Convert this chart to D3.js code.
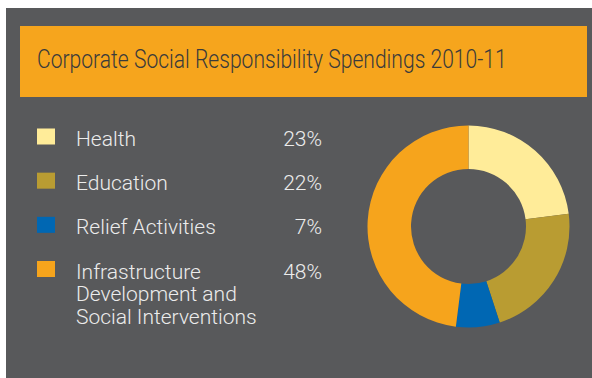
<!DOCTYPE html>
<html>
<head>
<meta charset="utf-8">
<script src="https://cdn.jsdelivr.net/npm/d3@7"></script>
<style>
  html, body { margin: 0; padding: 0; background: #ffffff; }
  svg { display: block; }
  text { font-family: Roboto, "Liberation Sans Narrow", "Open Sans", sans-serif; }
</style>
</head>
<body>
<svg id="chart" width="592" height="378"></svg>
<script>
// Spending shares by programme area
const titleText = "Corporate Social Responsibility Spendings 2010-11";
const categories = ["Health", "Education", "Relief Activities", "Infrastructure Development and Social Interventions"];
const labelLines = [["Health"], ["Education"], ["Relief Activities"], ["Infrastructure", "Development and", "Social Interventions"]];
const shares = [23, 22, 7, 48];
const colours = ["#ffec99", "#b99c32", "#0067b3", "#f6a41c"];

const svg = d3.select("#chart");

// dark panel
svg.append("rect")
  .attr("x", 6).attr("y", 8)
  .attr("width", 586).attr("height", 370)
  .attr("fill", "#58595b");

// title banner
svg.append("rect")
  .attr("x", 20).attr("y", 26)
  .attr("width", 567).attr("height", 71)
  .attr("fill", "#f6a51d");

// condensed title: squeeze the line horizontally to its set width
const titleWidth = 470;
const title = svg.append("g").attr("transform", "translate(37,68)");
const titleNode = title.append("text")
  .attr("x", 0).attr("y", 0)
  .attr("font-size", 25)
  .attr("font-weight", 300)
  .attr("fill", "#3b3b3b")
  .text(titleText);
const natural = titleNode.node().getComputedTextLength();
titleNode.attr("transform", `scale(${titleWidth / natural},1)`);

// legend
const rowY = d3.scalePoint().domain(categories).range([146, 278.5]);
const legend = svg.append("g");
const rows = legend.selectAll("g.row")
  .data(categories.map((c, i) => ({ c, i })))
  .join("g").attr("class", "row");

rows.append("rect")
  .attr("x", 37)
  .attr("y", d => rowY(d.c) - 17.5)
  .attr("width", 18).attr("height", 16)
  .attr("fill", d => colours[d.i]);

rows.append("text")
  .attr("x", 76)
  .attr("y", d => rowY(d.c))
  .attr("font-size", 21)
  .attr("font-weight", 300)
  .attr("fill", "#ececec")
  .selectAll("tspan")
  .data(d => labelLines[d.i])
  .join("tspan")
  .attr("x", 76)
  .attr("dy", (l, j) => j === 0 ? 0 : 22.5)
  .text(l => l);

rows.append("text")
  .attr("x", 322)
  .attr("y", d => rowY(d.c))
  .attr("text-anchor", "end")
  .attr("font-size", 21)
  .attr("font-weight", 300)
  .attr("fill", "#ececec")
  .text(d => shares[d.i] + "%");

// donut
const pie = d3.pie().sort(null).value(d => d)(shares);
const arc = d3.arc().innerRadius(57.5).outerRadius(101);
svg.append("g")
  .attr("transform", "translate(468.5,226.5)")
  .selectAll("path")
  .data(pie)
  .join("path")
  .attr("d", arc)
  .attr("fill", (d, i) => colours[i]);
</script>
</body>
</html>
